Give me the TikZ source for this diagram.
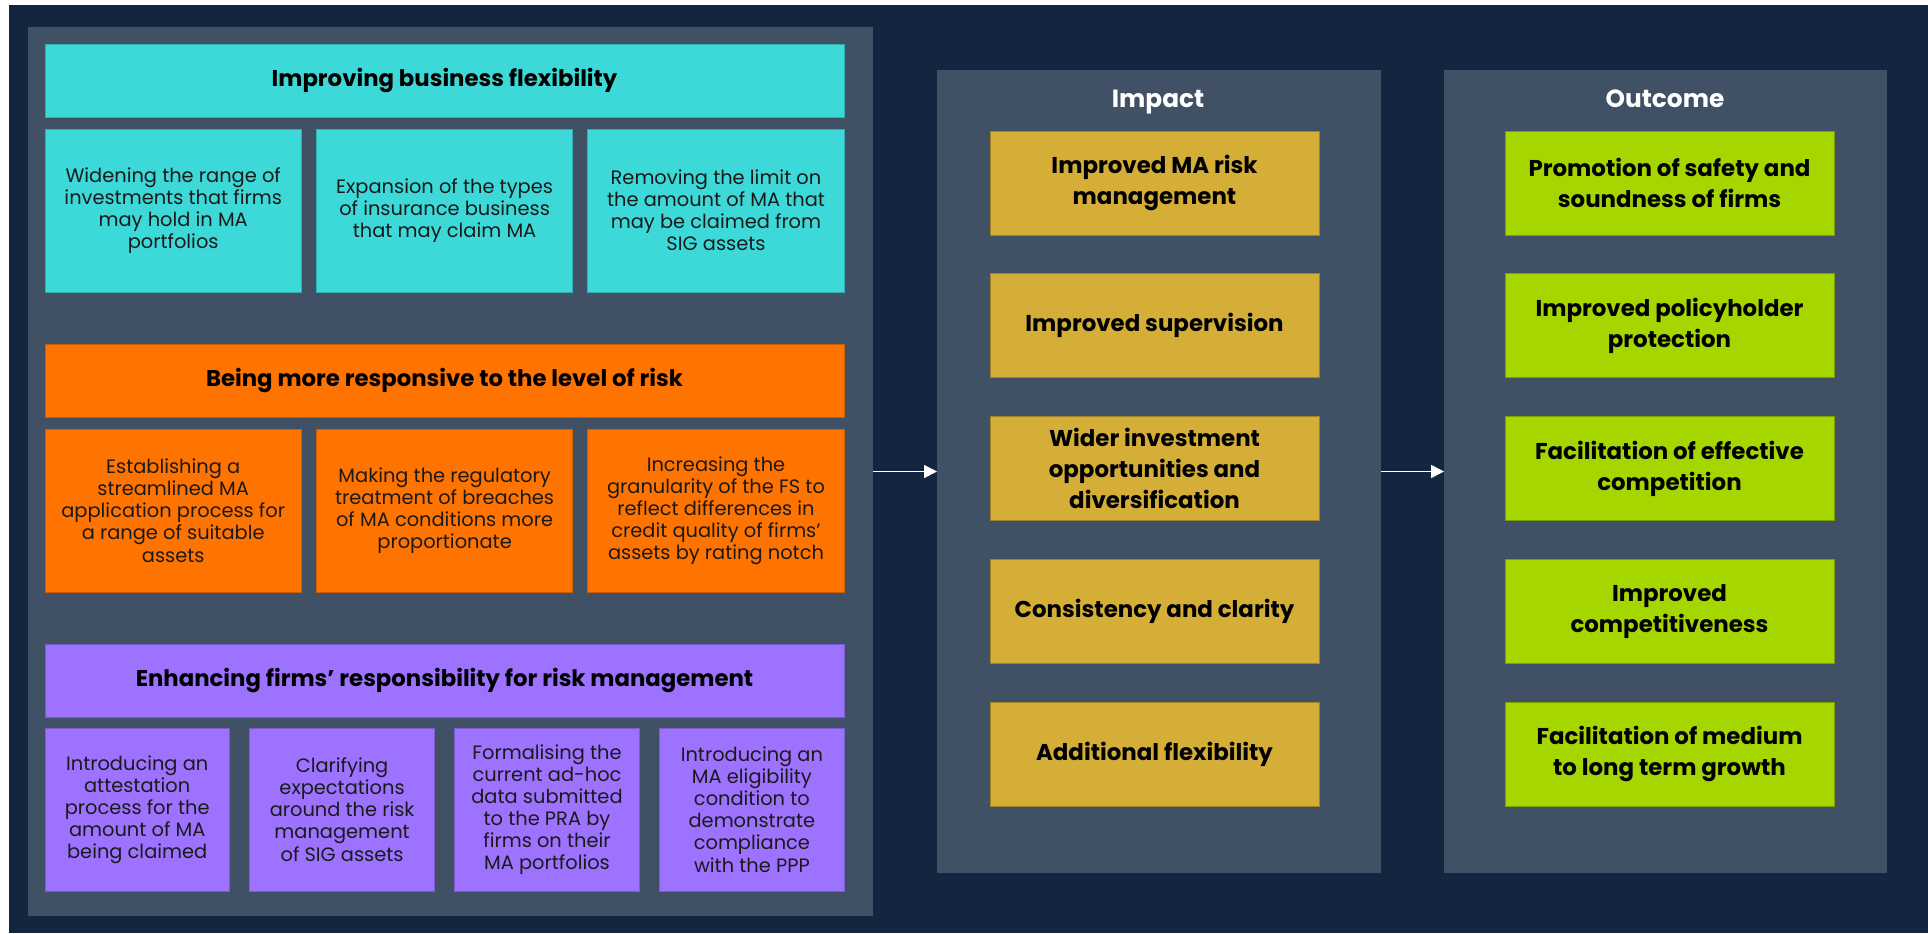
\documentclass[tikz,border=0pt]{standalone}
\usepackage{fontspec}
\setmainfont{Poppins}
\usepackage{xcolor}
\definecolor{navyBg}{HTML}{14263F}
\definecolor{panelGrey}{HTML}{415165}
\definecolor{flexCyan}{HTML}{3DD9D9}
\definecolor{riskOrange}{HTML}{FF7300}
\definecolor{respPurple}{HTML}{9D72FF}
\definecolor{impactGold}{HTML}{D4AE36}
\definecolor{outcomeGreen}{HTML}{A6D600}
\definecolor{inkDark}{HTML}{1A1A1A}
\usepackage{tikz}
\usetikzlibrary{positioning,arrows.meta}
\tikzset{%
  panelBox/.style={%
    rectangle,
    fill=panelGrey,
    inner sep=0pt,
    outer sep=0pt,
    anchor=north west
  },
  headBox/.style={%
    rectangle,
    draw=#1!80!black,
    line width=0.5pt,
    fill=#1,
    minimum width=399.5pt,
    minimum height=36.5pt,
    inner sep=0pt,
    outer sep=0pt,
    font=\bfseries\fontsize{11.4}{14}\selectfont,
    text=black
  },
  itemBox/.style={%
    rectangle,
    draw=#1!80!black,
    line width=0.5pt,
    fill=#1,
    minimum height=81.5pt,
    inner sep=0pt,
    outer sep=0pt,
    align=center,
    font=\fontsize{9.7}{11.05}\selectfont,
    text=inkDark
  },
  resultBox/.style={%
    rectangle,
    draw=#1!75!black,
    line width=0.5pt,
    fill=#1,
    minimum width=164.5pt,
    minimum height=52pt,
    inner sep=0pt,
    outer sep=0pt,
    align=center,
    font=\bfseries\fontsize{11.45}{15.5}\selectfont,
    text=black
  },
  panelTitle/.style={%
    anchor=base,
    font=\bfseries\fontsize{12.4}{15}\selectfont,
    text=white
  },
  flowArrow/.style={%
    -{Triangle[length=6.5pt,width=6.5pt]},
    line width=0.75pt,
    draw=white
  }
}

\begin{document}
\begin{tikzpicture}[x=0.5pt,y=-0.5pt]
  \fill[white] (0,0) rectangle (1928,933);
  \useasboundingbox (0,0) rectangle (1928,933);
  \fill[navyBg] (9,5) rectangle (1928,933);

  % panels
  \node[panelBox, minimum width=422.5pt, minimum height=444.5pt] (leftPanel) at (28,27) {};
  \node[panelBox, minimum width=222pt, minimum height=401.5pt] (impactPanel) at (937,70) {};
  \node[panelBox, minimum width=221.5pt, minimum height=401.5pt] (outcomePanel) at (1444,70) {};

  % flexibility
  \node[headBox=flexCyan, anchor=north west] (flexHead) at (45,44) {Improving business flexibility};
  \node[itemBox=flexCyan, minimum width=128.2pt, below right=6pt and 0pt of flexHead.south west] (flexA) {Widening the range of\\investments that firms\\may hold in MA\\portfolios};
  \node[itemBox=flexCyan, minimum width=128.2pt, right=7.5pt of flexA] (flexB) {Expansion of the types\\of insurance business\\that may claim MA};
  \node[itemBox=flexCyan, minimum width=128.2pt, right=7.5pt of flexB] (flexC) {Removing the limit on\\the amount of MA that\\may be claimed from\\SIG assets};

  % risk
  \node[headBox=riskOrange, below right=26pt and 0pt of flexA.south west] (riskHead) {Being more responsive to the level of risk};
  \node[itemBox=riskOrange, minimum width=128.2pt, below right=6pt and 0pt of riskHead.south west] (riskA) {Establishing a\\streamlined MA\\application process for\\a range of suitable\\assets};
  \node[itemBox=riskOrange, minimum width=128.2pt, right=7.5pt of riskA] (riskB) {Making the regulatory\\treatment of breaches\\of MA conditions more\\proportionate};
  \node[itemBox=riskOrange, minimum width=128.2pt, right=7.5pt of riskB] (riskC) {Increasing the\\granularity of the FS to\\reflect differences in\\credit quality of firms’\\assets by rating notch};

  % responsibility
  \node[headBox=respPurple, below right=26pt and 0pt of riskA.south west] (respHead) {Enhancing firms’ responsibility for risk management};
  \node[itemBox=respPurple, minimum width=92.2pt, below right=5.5pt and 0pt of respHead.south west] (respA) {Introducing an\\attestation\\process for the\\amount of MA\\being claimed};
  \node[itemBox=respPurple, minimum width=92.2pt, right=10.25pt of respA] (respB) {Clarifying\\expectations\\around the risk\\management\\of SIG assets};
  \node[itemBox=respPurple, minimum width=92.2pt, right=10.25pt of respB] (respC) {Formalising the\\current ad-hoc\\data submitted\\to the PRA by\\firms on their\\MA portfolios};
  \node[itemBox=respPurple, minimum width=92.2pt, right=10.25pt of respC] (respD) {Introducing an\\MA eligibility\\condition to\\demonstrate\\compliance\\with the PPP};

  % impact
  \node[panelTitle] (impactTitle) at (1158,107) {Impact};
  \node[resultBox=impactGold, anchor=north west] (impA) at (990,131) {Improved MA risk\\management};
  \node[resultBox=impactGold, below=19.4pt of impA] (impB) {Improved supervision};
  \node[resultBox=impactGold, below=19.4pt of impB] (impC) {Wider investment\\opportunities and\\diversification};
  \node[resultBox=impactGold, below=19.4pt of impC] (impD) {Consistency and clarity};
  \node[resultBox=impactGold, below=19.4pt of impD] (impE) {Additional flexibility};

  % outcome
  \node[panelTitle] (outcomeTitle) at (1665,107) {Outcome};
  \node[resultBox=outcomeGreen, anchor=north west] (outA) at (1505,131) {Promotion of safety and\\soundness of firms};
  \node[resultBox=outcomeGreen, below=19.4pt of outA] (outB) {Improved policyholder\\protection};
  \node[resultBox=outcomeGreen, below=19.4pt of outB] (outC) {Facilitation of effective\\competition};
  \node[resultBox=outcomeGreen, below=19.4pt of outC] (outD) {Improved\\competitiveness};
  \node[resultBox=outcomeGreen, below=19.4pt of outD] (outE) {Facilitation of medium\\to long term growth};

  \draw[flowArrow] (leftPanel.east) -- (impactPanel.west);
  \draw[flowArrow] (impactPanel.east) -- (outcomePanel.west);
\end{tikzpicture}
\end{document}
